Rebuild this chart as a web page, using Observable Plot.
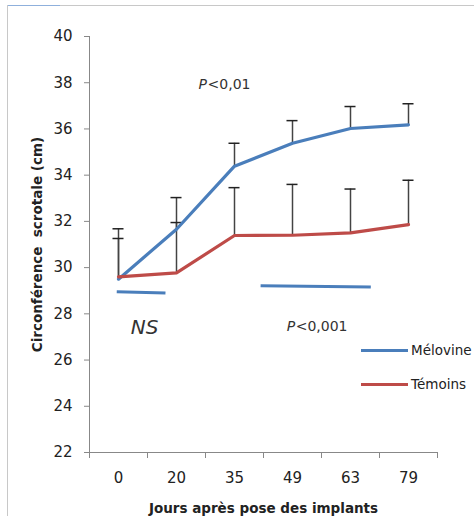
<!DOCTYPE html>
<html>
<head>
<meta charset="utf-8">
<script src="https://cdn.jsdelivr.net/npm/d3@7"></script>
<script src="https://cdn.jsdelivr.net/npm/@observablehq/plot@0.6"></script>
<style>
  html, body { margin: 0; padding: 0; background: #fff; overflow: hidden; }
  #wrap { position: relative; width: 474px; height: 516px; overflow: hidden; font-family: "DejaVu Sans", sans-serif; }
  #frameTop { position: absolute; left: 7px; top: 5px; width: 467px; height: 0; border-top: 1px solid #c8c8c8; }
  #frameTopBlue { position: absolute; left: 7px; top: 5px; width: 53px; height: 0; border-top: 1px solid #8fb0dc; }
  #frameLeft { position: absolute; left: 7px; top: 5px; width: 0; height: 511px; border-left: 1px solid #c8c8c8; }
  #chart { position: absolute; left: 0; top: 0; }
  .leg { position: absolute; left: 361px; display: flex; align-items: center; font-size: 13.5px; color: #222; white-space: nowrap; }
  .leg .sw { width: 47px; height: 3px; margin-right: 3px; }
</style>
</head>
<body>
<div id="wrap">
  <div id="frameTop"></div>
  <div id="frameTopBlue"></div>
  <div id="frameLeft"></div>
  <div id="chart"></div>
</div>
<script>
// Categories (days after implant)
const days = ["0", "20", "35", "49", "63", "79"];
// Series means
const melovine = [29.5, 31.66, 34.39, 35.38, 36.02, 36.18];
const temoins = [29.6, 29.77, 31.39, 31.4, 31.5, 31.86];
// Upper error bar ends
const melovineTop = [31.68, 33.03, 35.38, 36.36, 36.97, 37.09];
const temoinsTop = [31.26, 31.95, 33.46, 33.6, 33.4, 33.78];
// Y ticks
const yTicks = [22, 24, 26, 28, 30, 32, 34, 36, 38, 40];
// Series names & colours
const seriesNames = ["Mélovine", "Témoins"];
const seriesColors = ["#4a7ebb", "#be4b48"];
// Significance annotations (x in category index units, y in cm)
const sigLines = [
  {x1: -0.03, y1: 28.96, x2: 0.81, y2: 28.9},
  {x1: 2.45, y1: 29.22, x2: 4.35, y2: 29.16}
];
const sigTexts = [
  {x: 1.38, y: 37.92, p: "P", rest: "<0,01"},
  {x: 2.90, y: 27.45, p: "P", rest: "<0,001"}
];
const nsText = [{x: 0.45, y: 27.4, t: "NS"}];

const rows = [];
days.forEach((d, i) => {
  rows.push({i, day: d, s: seriesNames[0], v: melovine[i], top: melovineTop[i]});
  rows.push({i, day: d, s: seriesNames[1], v: temoins[i], top: temoinsTop[i]});
});
const boundaries = d3.range(-0.5, days.length, 1);

const plot = Plot.plot({
  width: 474,
  height: 516,
  marginLeft: 89,
  marginRight: 37,
  marginTop: 36,
  marginBottom: 64,
  style: {fontFamily: "DejaVu Sans, sans-serif", fontSize: "14px", color: "#222", background: "transparent"},
  x: {type: "linear", domain: [-0.5, days.length - 0.5]},
  y: {domain: [22, 40]},
  color: {domain: seriesNames, range: seriesColors},
  marks: [
    // y axis
    Plot.axisY({ticks: yTicks, tickSize: 5, tickPadding: 12, stroke: "#888", fill: "#222", fontSize: 15,
      label: "Circonférence  scrotale (cm)", labelAnchor: "center", labelOffset: 57, labelArrow: "none"}),
    Plot.ruleX([-0.5], {y1: 22, y2: 40, stroke: "#888"}),
    // x axis: ticks at boundaries, labels at centers
    Plot.ruleY([22], {stroke: "#888"}),
    Plot.axisX({ticks: boundaries, tickSize: 6, tickFormat: () => "", stroke: "#888", label: null}),
    Plot.axisX({ticks: d3.range(days.length), tickSize: 0, tickPadding: 20, tickFormat: i => days[i], fill: "#222", fontSize: 15,
      label: "Jours après pose des implants", labelAnchor: "center", labelOffset: 60, labelArrow: "none"}),
    // error bars
    Plot.ruleX(rows, {x: "i", y1: "v", y2: "top", stroke: "#444", strokeWidth: 1.5}),
    Plot.ruleY(rows, {y: "top", x1: d => d.i - 0.095, x2: d => d.i + 0.095, stroke: "#222", strokeWidth: 1.5}),
    // lines
    Plot.line(rows, {x: "i", y: "v", stroke: "s", z: "s", strokeWidth: 3.2, curve: "linear"}),
    // significance lines
    Plot.link(sigLines, {x1: "x1", y1: "y1", x2: "x2", y2: "y2", stroke: seriesColors[0], strokeWidth: 3}),
    Plot.text(sigTexts, {x: "x", y: "y", text: "p", textAnchor: "start", fontStyle: "italic", fontSize: 14, fill: "#333"}),
    Plot.text(sigTexts, {x: "x", y: "y", text: "rest", textAnchor: "start", dx: 9, fontSize: 14, fill: "#333"}),
    Plot.text(nsText, {x: "x", y: "y", text: "t", fontStyle: "italic", fontSize: 20, fill: "#333"})
  ]
});
plot.querySelectorAll("g[aria-label='y-axis label'], g[aria-label='x-axis label']").forEach(g => {
  g.setAttribute("font-weight", "bold");
  g.setAttribute("font-size", "13.5");
  g.querySelectorAll("text").forEach(t => { t.setAttribute("font-weight", "bold"); t.setAttribute("font-size", "13.5"); });
});
document.getElementById("chart").appendChild(plot);

// legend
const wrap = document.getElementById("wrap");
const legTops = [342, 376];
seriesNames.forEach((n, k) => {
  const div = document.createElement("div");
  div.className = "leg";
  div.style.top = legTops[k] + "px";
  div.innerHTML = `<div class="sw" style="background:${seriesColors[k]}"></div><span>${n}</span>`;
  wrap.appendChild(div);
});
</script>
</body>
</html>
